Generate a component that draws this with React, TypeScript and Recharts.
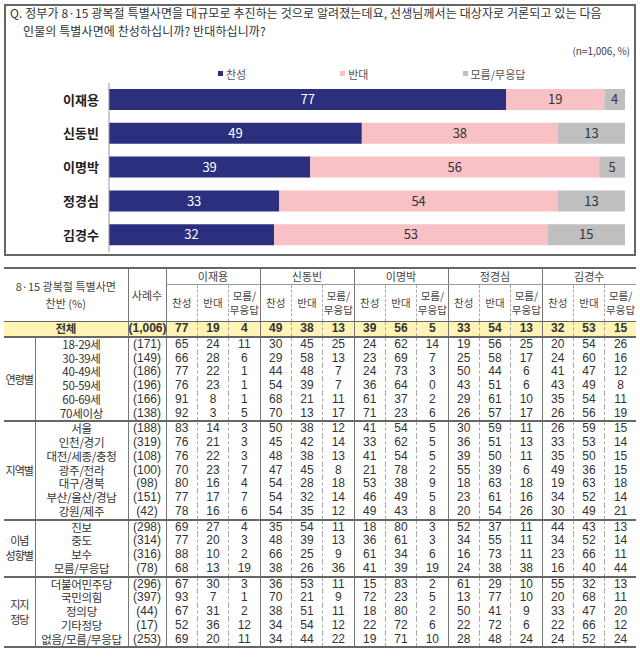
import React from "react";
import { BarChart, Bar, XAxis, YAxis, Legend, LabelList } from "recharts";

const FONT = '"Noto Sans CJK KR", "Noto Sans", sans-serif';
const NUM_FONT = '"Liberation Sans Narrow", "Liberation Sans", "Noto Sans CJK KR", sans-serif';

const people = ["이재용", "신동빈", "이명박", "정경심", "김경수"];
const favor = [77, 49, 39, 33, 32];
const oppose = [19, 38, 56, 54, 53];
const unsure = [4, 13, 5, 13, 15];

const answerLabels = ["찬성", "반대", "모름/무응답"];

const totalCount = "(1,006)";
const totalValues = [77, 19, 4, 49, 38, 13, 39, 56, 5, 33, 54, 13, 32, 53, 15];

const ageLabels = ["18-29세", "30-39세", "40-49세", "50-59세", "60-69세", "70세이상"];
const ageCounts = ["(171)", "(149)", "(186)", "(196)", "(166)", "(138)"];
const ageValues = [
  [65, 24, 11, 30, 45, 25, 24, 62, 14, 19, 56, 25, 20, 54, 26],
  [66, 28, 6, 29, 58, 13, 23, 69, 7, 25, 58, 17, 24, 60, 16],
  [77, 22, 1, 44, 48, 7, 24, 73, 3, 50, 44, 6, 41, 47, 12],
  [76, 23, 1, 54, 39, 7, 36, 64, 0, 43, 51, 6, 43, 49, 8],
  [91, 8, 1, 68, 21, 11, 61, 37, 2, 29, 61, 10, 35, 54, 11],
  [92, 3, 5, 70, 13, 17, 71, 23, 6, 26, 57, 17, 26, 56, 19],
];

const regionLabels = ["서울", "인천/경기", "대전/세종/충청", "광주/전라", "대구/경북", "부산/울산/경남", "강원/제주"];
const regionCounts = ["(188)", "(319)", "(108)", "(100)", "(98)", "(151)", "(42)"];
const regionValues = [
  [83, 14, 3, 50, 38, 12, 41, 54, 5, 30, 59, 11, 26, 59, 15],
  [76, 21, 3, 45, 42, 14, 33, 62, 5, 36, 51, 13, 33, 53, 14],
  [76, 22, 3, 48, 38, 13, 41, 54, 5, 39, 50, 11, 35, 50, 15],
  [70, 23, 7, 47, 45, 8, 21, 78, 2, 55, 39, 6, 49, 36, 15],
  [80, 16, 4, 54, 28, 18, 53, 38, 9, 18, 63, 18, 19, 63, 18],
  [77, 17, 7, 54, 32, 14, 46, 49, 5, 23, 61, 16, 34, 52, 14],
  [78, 16, 6, 54, 35, 12, 49, 43, 8, 20, 54, 26, 30, 49, 21],
];

const ideologyLabels = ["진보", "중도", "보수", "모름/무응답"];
const ideologyCounts = ["(298)", "(314)", "(316)", "(78)"];
const ideologyValues = [
  [69, 27, 4, 35, 54, 11, 18, 80, 3, 52, 37, 11, 44, 43, 13],
  [77, 20, 3, 48, 39, 13, 36, 61, 3, 34, 55, 11, 34, 52, 14],
  [88, 10, 2, 66, 25, 9, 61, 34, 6, 16, 73, 11, 23, 66, 11],
  [68, 13, 19, 38, 26, 36, 41, 39, 19, 24, 38, 38, 16, 40, 44],
];

const partyLabels = ["더불어민주당", "국민의힘", "정의당", "기타정당", "없음/모름/무응답"];
const partyCounts = ["(296)", "(397)", "(44)", "(17)", "(253)"];
const partyValues = [
  [67, 30, 3, 36, 53, 11, 15, 83, 2, 61, 29, 10, 55, 32, 13],
  [93, 7, 1, 70, 21, 9, 72, 23, 5, 13, 77, 10, 20, 68, 11],
  [67, 31, 2, 38, 51, 11, 18, 80, 2, 50, 41, 9, 33, 47, 20],
  [52, 36, 12, 34, 54, 12, 22, 72, 6, 22, 72, 6, 22, 66, 12],
  [69, 20, 11, 34, 44, 22, 19, 71, 10, 28, 48, 24, 24, 52, 24],
];

const groups = [
  { title: ["연령별"], labels: ageLabels, counts: ageCounts, values: ageValues },
  { title: ["지역별"], labels: regionLabels, counts: regionCounts, values: regionValues },
  { title: ["이념", "성향별"], labels: ideologyLabels, counts: ideologyCounts, values: ideologyValues },
  { title: ["지지", "정당"], labels: partyLabels, counts: partyCounts, values: partyValues },
];

const chartData = people.map((name, i) => ({
  name,
  favor: favor[i],
  oppose: oppose[i],
  unsure: unsure[i],
}));

const NAVY = "#2c2e7e";
const PINK = "#f8c1c5";
const GRAY = "#bfbfbf";

function LegendContent(props: any) {
  const items = [...(props.payload || [])].sort(
    (a: any, b: any) => answerLabels.indexOf(a.value) - answerLabels.indexOf(b.value)
  );
  return (
    <div style={{ height: 19, display: "flex", alignItems: "center", paddingLeft: 218, fontFamily: FONT }}>
      {items.map((it: any, i: number) => (
        <div key={i} style={{ display: "flex", alignItems: "center", marginRight: 94 }}>
          <span style={{ width: 5, height: 5, background: it.color, display: "inline-block", marginRight: 3 }} />
          <span style={{ fontSize: 11, color: "#555" }}>{it.value}</span>
        </div>
      ))}
    </div>
  );
}

const DASH = "1px dashed #aaa";
const SOLID = "1px solid #777";
const dataBorder = (j: number) => (j % 3 === 0 ? SOLID : DASH);
const ROW_H = 13.75;

// table cell with a fixed-height inner box so rows keep their height
function C({ children, h = ROW_H, style, inner, ...rest }: any) {
  return (
    <td style={{ padding: 0, textAlign: "center", color: "#333", verticalAlign: "middle", ...style }} {...rest}>
      <div style={{ height: h, lineHeight: `${h}px`, whiteSpace: "nowrap", fontSize: 12, fontFamily: NUM_FONT, ...inner }}>
        {children}
      </div>
    </td>
  );
}

const labelInner = { fontFamily: FONT, fontSize: 11.5, letterSpacing: -0.3 };

export default function App() {
  return (
    <div style={{ position: "absolute", left: 0, top: 0, width: 640, height: 658, background: "#fff", fontFamily: FONT, overflow: "hidden" }}>
      <div style={{ position: "absolute", left: 4, top: 4, width: 628, height: 248, border: "2px solid #666" }} />
      <div style={{ position: "absolute", left: 10, top: 4, fontSize: 12, color: "#333", lineHeight: "17.5px", letterSpacing: 0.1, whiteSpace: "nowrap" }}>
        <div>Q. 정부가 8·15 광복절 특별사면을 대규모로 추진하는 것으로 알려졌는데요, 선생님께서는 대상자로 거론되고 있는 다음</div>
        <div style={{ paddingLeft: 13 }}>인물의 특별사면에 찬성하십니까? 반대하십니까?</div>
      </div>
      <div style={{ position: "absolute", right: 10, top: 43, fontSize: 10, color: "#444" }}>(n=1,006, %)</div>
      <div style={{ position: "absolute", left: 0, top: 0 }}>
        <BarChart
          width={640}
          height={258}
          data={chartData}
          layout="vertical"
          margin={{ top: 64, right: 15, bottom: 6, left: 0 }}
          barSize={21}
        >
          <XAxis type="number" domain={[0, 100]} hide />
          <YAxis
            type="category"
            dataKey="name"
            width={109}
            tickLine={false}
            tickMargin={4}
            axisLine={{ stroke: "#999" }}
            tick={{ fill: "#222", fontSize: 13, fontWeight: 700, fontFamily: FONT }}
          />
          <Legend verticalAlign="top" align="left" content={<LegendContent />} />
          <Bar dataKey="favor" name={answerLabels[0]} stackId="a" fill={NAVY} isAnimationActive={false}>
            <LabelList dataKey="favor" position="center" fill="#fff" fontSize={13} fontFamily={FONT} />
          </Bar>
          <Bar dataKey="oppose" name={answerLabels[1]} stackId="a" fill={PINK} isAnimationActive={false}>
            <LabelList dataKey="oppose" position="center" fill="#333" fontSize={13} fontFamily={FONT} />
          </Bar>
          <Bar dataKey="unsure" name={answerLabels[2]} stackId="a" fill={GRAY} isAnimationActive={false}>
            <LabelList dataKey="unsure" position="center" fill="#333" fontSize={13} fontFamily={FONT} />
          </Bar>
        </BarChart>
      </div>

      <table
        style={{
          position: "absolute",
          left: 4,
          top: 267,
          width: 632,
          tableLayout: "fixed",
          borderCollapse: "collapse",
          fontFamily: FONT,
        }}
      >
        <colgroup>
          <col style={{ width: 31 }} />
          <col style={{ width: 93 }} />
          <col style={{ width: 38 }} />
          {totalValues.map((_, j) => (
            <col key={j} style={{ width: 470 / 15 }} />
          ))}
        </colgroup>
        <tbody>
          <tr style={{ borderTop: "2px solid #666" }}>
            <C colSpan={2} rowSpan={2} h={34} inner={{ fontFamily: FONT, fontSize: 11, lineHeight: "17px", color: "#444", whiteSpace: "normal" }}>
              8·15 광복절 특별사면
              <br />
              찬반 (%)
            </C>
            <C rowSpan={2} h={34} style={{ borderLeft: SOLID }} inner={{ fontFamily: FONT, fontSize: 11, lineHeight: "34px", color: "#444" }}>
              사례수
            </C>
            {people.map((p) => (
              <C key={p} colSpan={3} h={15} style={{ borderLeft: SOLID, borderBottom: "1px solid #999" }} inner={{ fontFamily: FONT, fontSize: 11, color: "#444" }}>
                {p}
              </C>
            ))}
          </tr>
          <tr>
            {totalValues.map((_, j) => (
              <C key={j} h={36} style={{ borderLeft: dataBorder(j) }} inner={{ fontFamily: FONT, fontSize: 10.5, lineHeight: j % 3 === 2 ? "14px" : "36px", paddingTop: j % 3 === 2 ? 4 : 0, height: j % 3 === 2 ? 32 : 36, color: "#444" }}>
                {j % 3 === 2 ? (
                  <>
                    모름/
                    <br />
                    무응답
                  </>
                ) : (
                  answerLabels[j % 3]
                )}
              </C>
            ))}
          </tr>
          <tr style={{ background: "#fff3b5", borderTop: "1px solid #666" }}>
            <C colSpan={2} inner={{ ...labelInner, fontWeight: 700 }}>전체</C>
            <C style={{ borderLeft: SOLID }} inner={{ fontWeight: 700 }}>{totalCount}</C>
            {totalValues.map((v, j) => (
              <C key={j} style={{ borderLeft: dataBorder(j) }} inner={{ fontWeight: 700 }}>{v}</C>
            ))}
          </tr>
          {groups.map((g, gi) =>
            g.labels.map((label, ri) => (
              <tr key={`${gi}-${ri}`} style={ri === 0 ? { borderTop: "2px solid #666" } : undefined}>
                {ri === 0 && (
                  <td rowSpan={g.labels.length} style={{ padding: 0, textAlign: "center", color: "#333", fontSize: 11, letterSpacing: -1, lineHeight: "15px", borderRight: SOLID }}>
                    {g.title.map((t, k) => (
                      <div key={k}>{t}</div>
                    ))}
                  </td>
                )}
                <C inner={labelInner}>{label}</C>
                <C style={{ borderLeft: SOLID }}>{g.counts[ri]}</C>
                {g.values[ri].map((v, j) => (
                  <C key={j} style={{ borderLeft: dataBorder(j) }}>{v}</C>
                ))}
              </tr>
            ))
          )}
          <tr style={{ borderTop: "2px solid #666" }}>
            <td colSpan={18} style={{ height: 0, padding: 0 }} />
          </tr>
        </tbody>
      </table>
    </div>
  );
}
